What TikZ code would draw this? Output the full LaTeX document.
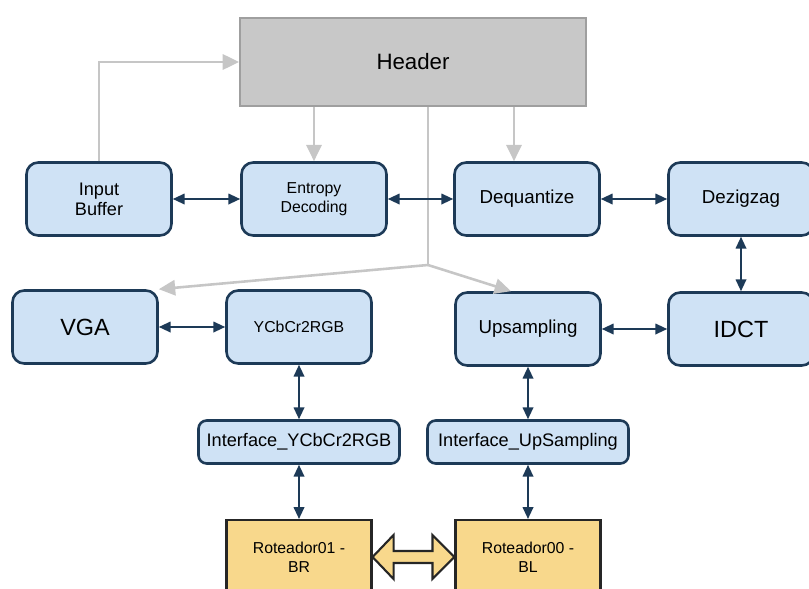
\documentclass[tikz,border=0pt]{standalone}
\usepackage{fontspec}
\setmainfont{Liberation Sans}
\usetikzlibrary{arrows.meta,calc}

\definecolor{boxblue}{HTML}{CFE2F5}
\definecolor{boxline}{HTML}{1D3A57}
\definecolor{routerfill}{HTML}{F8D88C}
\definecolor{headgray}{HTML}{C8C8C8}
\definecolor{flowgray}{HTML}{C6C6C6}

\tikzset{
  block/.style={draw=boxline, fill=boxblue, line width=2.2pt, rounded corners=10pt,
    minimum width=4.35cm, minimum height=2.19cm, align=center, inner sep=0pt,
    font=\fontsize{15.5}{17}\selectfont},
  iface/.style={block, minimum width=6.03cm, minimum height=1.29cm, rounded corners=7pt},
  router/.style={draw=black!85, fill=routerfill, line width=1.8pt, minimum width=4.35cm,
    minimum height=2.22cm, align=center, inner sep=0pt, font=\fontsize{13.5}{16}\selectfont},
  link/.style={boxline, line width=1.4pt,
    {Triangle[length=10pt,width=9pt]}-{Triangle[length=10pt,width=9pt]}},
  feed/.style={flowgray, line width=2.2pt, -{Triangle[length=14pt,width=13pt]}},
}

\begin{document}
\begin{tikzpicture}[x=0.03cm, y=-0.03cm]

\useasboundingbox (0,0) rectangle (809,589);

% Header block on top
\node[draw=gray!75, fill=headgray, line width=1.5pt, minimum width=10.38cm,
  minimum height=2.64cm, font=\fontsize{19}{22}\selectfont] (header) at (413,62) {Header};

% First row: decoder front end
\node[block] (inbuf) at (99,199) {Input\\Buffer};
\node[block, font=\fontsize{13.5}{16}\selectfont] (entropy) at (314,199) {Entropy\\Decoding};
\node[block, font=\fontsize{16}{18}\selectfont] (dequant) at (527,199) {Dequantize};
\node[block, font=\fontsize{16}{18}\selectfont] (dezig) at (741,199) {Dezigzag};

% Second row
\node[block, font=\fontsize{20}{22}\selectfont] (vga) at (85,327) {VGA};
\node[block, font=\fontsize{13.5}{16}\selectfont] (ycbcr) at (299,327) {YCbCr2RGB};
\node[block, font=\fontsize{16}{18}\selectfont] (ups) at (528,329) {Upsampling};
\node[block, font=\fontsize{20}{22}\selectfont] (idct) at (741,329) {IDCT};

% Interfaces and routers
\node[iface] (ify) at (299,442) {Interface\_YCbCr2RGB};
\node[iface] (ifu) at (528,442) {Interface\_UpSampling};
\node[router] (r01) at (299,557) {Roteador01 -\\BR};
\node[router] (r00) at (528,557) {Roteador00 -\\BL};

% Gray header connections
\draw[feed] (inbuf.north) |- (header.west);
\draw[feed] (entropy.north |- header.south) -- (entropy.north);
\coordinate (dqin) at ($(dequant.north)+(-13,0)$);
\draw[feed] (dqin |- header.south) -- (dqin);
\coordinate (split) at (428,265);
\draw[flowgray, line width=2.2pt] (split |- header.south) -- (split);
\draw[feed] (split) -- (vga.north east);
\draw[feed] (split) -- ($(ups.north)+(-17,0)$);

% Data path
\draw[link] (inbuf) -- (entropy);
\draw[link] (entropy) -- (dequant);
\draw[link] (dequant) -- (dezig);
\draw[link] (dezig) -- (idct);
\draw[link] (ups) -- (idct);
\draw[link] (vga) -- (ycbcr);
\draw[link] (ycbcr) -- (ify);
\draw[link] (ify) -- (r01);
\draw[link] (ups) -- (ifu);
\draw[link] (ifu) -- (r00);

% Hollow double arrow between the routers
\draw[black!85, fill=routerfill, line width=1.8pt, line join=miter]
  (r01.east) -- ($(r01.east)+(21,-22)$) -- ($(r01.east)+(21,-6)$)
  -- ($(r00.west)+(-22,-6)$) -- ($(r00.west)+(-22,-22)$) -- (r00.west)
  -- ($(r00.west)+(-22,22)$) -- ($(r00.west)+(-22,6)$)
  -- ($(r01.east)+(21,6)$) -- ($(r01.east)+(21,22)$) -- cycle;

\end{tikzpicture}
\end{document}
